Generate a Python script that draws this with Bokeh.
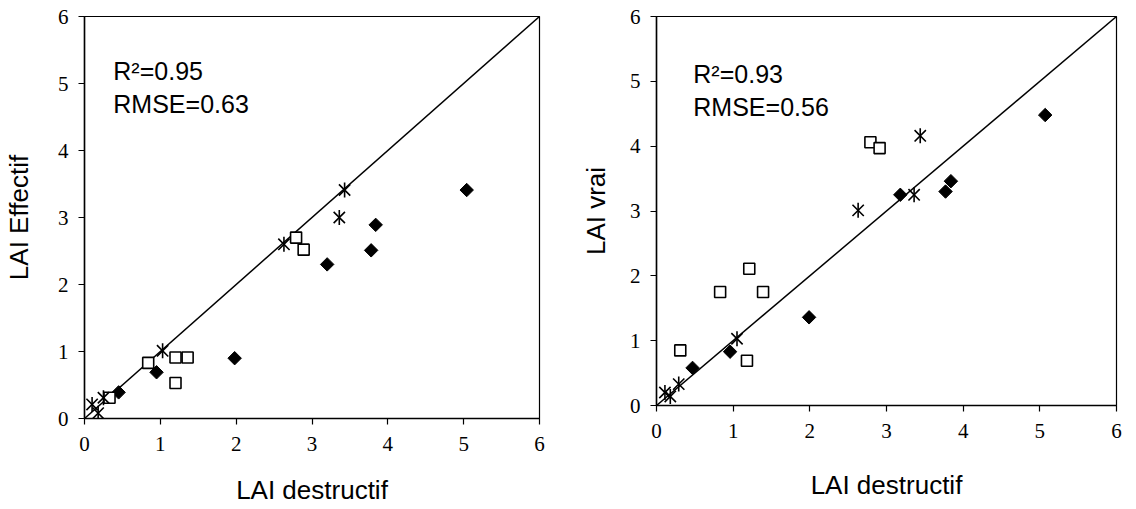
import math
from bokeh.plotting import figure
from bokeh.layouts import row
from bokeh.models import Range1d, FixedTicker, Label, ColumnDataSource
from bokeh.embed import file_html
from bokeh.resources import INLINE

# ---------------- data ----------------
ticks = [0, 1, 2, 3, 4, 5, 6]

# Left panel: LAI destructif vs LAI Effectif
L_diamond_x = [0.45, 0.95, 1.98, 3.20, 3.78, 3.84, 5.04]
L_diamond_y = [0.39, 0.69, 0.90, 2.30, 2.51, 2.89, 3.41]
L_square_x = [0.33, 0.84, 1.20, 1.36, 1.20, 2.79, 2.89]
L_square_y = [0.31, 0.83, 0.91, 0.91, 0.53, 2.70, 2.52]
L_star_x = [0.10, 0.18, 0.25, 1.03, 2.63, 3.36, 3.43]
L_star_y = [0.21, 0.08, 0.31, 1.01, 2.60, 3.00, 3.41]
L_stats = ["R²=0.95", "RMSE=0.63"]

# Right panel: LAI destructif vs LAI vrai
R_diamond_x = [0.47, 0.96, 1.99, 3.18, 3.77, 3.84, 5.07]
R_diamond_y = [0.58, 0.83, 1.36, 3.25, 3.30, 3.46, 4.48]
R_square_x = [0.31, 0.83, 1.21, 1.39, 1.18, 2.79, 2.91]
R_square_y = [0.85, 1.75, 2.11, 1.75, 0.69, 4.06, 3.97]
R_star_x = [0.11, 0.18, 0.29, 1.05, 2.63, 3.36, 3.44]
R_star_y = [0.20, 0.14, 0.33, 1.03, 3.01, 3.25, 4.16]
R_stats = ["R²=0.93", "RMSE=0.56"]

line_xy = [0, 6]

SANS = "Liberation Sans"
SERIF = "Liberation Serif"


def make_panel(fw, fh, bl, br, bt, bb, dx, dy, sx, sy, ax, ay, stats,
               stat_x, stat_y1, stat_y2, ylab, xstand, ystand):
    p = figure(frame_width=fw, frame_height=fh,
               min_border_left=bl, min_border_right=br,
               min_border_top=bt, min_border_bottom=bb,
               x_range=Range1d(0, 6), y_range=Range1d(0, 6),
               output_backend="svg", toolbar_location=None,
               background_fill_color="white", border_fill_color="white")
    p.grid.visible = False
    p.outline_line_color = "black"
    p.outline_line_width = 1.2
    for axis in (p.xaxis[0], p.yaxis[0]):
        axis.ticker = FixedTicker(ticks=ticks)
        axis.minor_tick_line_color = None
        axis.major_tick_in = 0
        axis.major_tick_out = 6
        axis.major_tick_line_color = "black"
        axis.major_tick_line_width = 1.2
        axis.axis_line_color = "black"
        axis.axis_line_width = 1.5
        axis.major_label_text_font = SERIF
        axis.major_label_text_font_size = "21px"
        axis.major_label_text_color = "black"
        axis.axis_label_text_font = SANS
        axis.axis_label_text_font_size = "26px"
        axis.axis_label_text_font_style = "normal"
        axis.axis_label_text_color = "black"
    p.xaxis.major_label_standoff = 12
    p.yaxis.major_label_standoff = 10
    p.xaxis.axis_label = "LAI destructif"
    p.yaxis.axis_label = ylab
    p.xaxis.axis_label_standoff = xstand
    p.yaxis.axis_label_standoff = ystand

    # 1:1 line
    p.line(line_xy, line_xy, line_color="black", line_width=1.5)

    # diamonds
    p.scatter(dx, dy, marker="square", angle=math.pi / 4, size=9.5,
              fill_color="black", line_color="black", line_width=1)
    # open squares
    p.scatter(sx, sy, marker="square", size=11,
              fill_color="white", line_color="black", line_width=1.6)
    # asterisk-like stars (x plus vertical stroke)
    src = ColumnDataSource(dict(x=ax, y=ay))
    p.scatter("x", "y", source=src, marker="x", size=16,
              line_color="black", line_width=1.6)
    p.scatter("x", "y", source=src, marker="dash", angle=math.pi / 2, size=15,
              line_color="black", line_width=1.6)

    # stats text
    for txt, yy in ((stats[0], stat_y1), (stats[1], stat_y2)):
        p.add_layout(Label(x=stat_x, y=yy, text=txt, text_font=SANS,
                           text_font_size="25px", text_color="black",
                           text_baseline="alphabetic", text_align="left"))
    return p


p1 = make_panel(455, 402, 79, 38, 11, 96,
                L_diamond_x, L_diamond_y, L_square_x, L_square_y, L_star_x, L_star_y,
                L_stats, 0.38, 5.18, 4.69, "LAI Effectif", 21, 21)
p2 = make_panel(460, 389, 76, 12, 16, 104,
                R_diamond_x, R_diamond_y, R_square_x, R_square_y, R_star_x, R_star_y,
                R_stats, 0.48, 5.11, 4.60, "LAI vrai", 29, 16)

layout = row(p1, p2)
open("out.html", "w").write(file_html(layout, INLINE))
